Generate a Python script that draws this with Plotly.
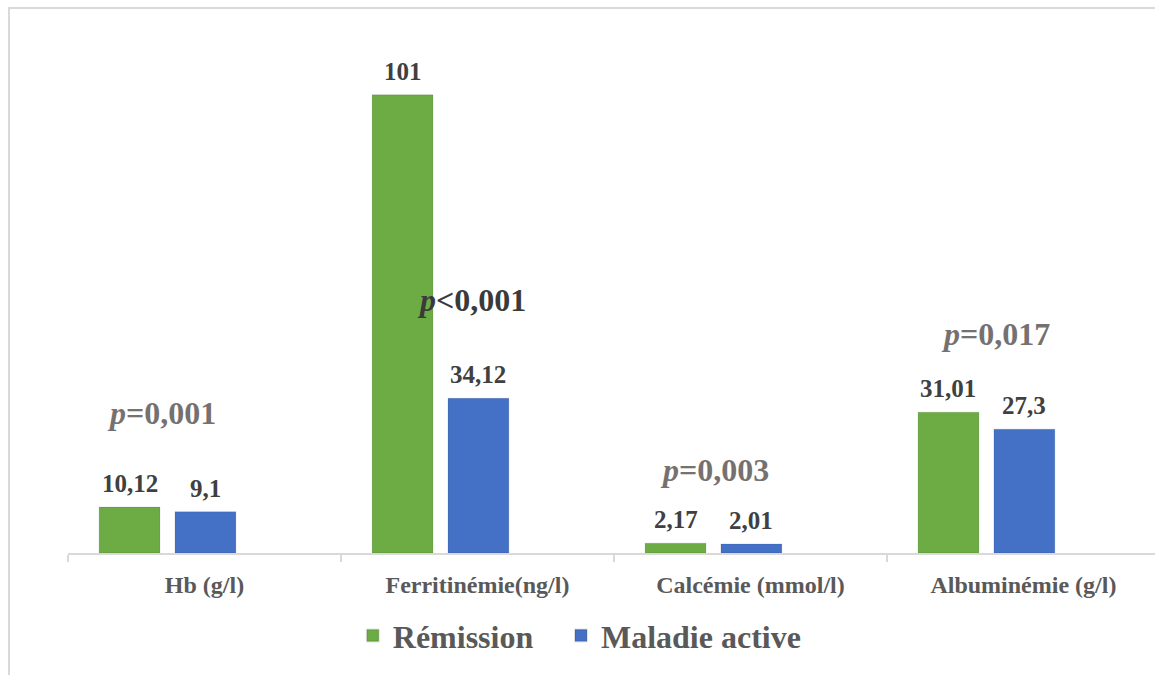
import plotly.graph_objects as go

# Biological parameters by disease activity
categories = ["Hb (g/l)", "Ferritinémie(ng/l)", "Calcémie (mmol/l)", "Albuminémie (g/l)"]
remission = [10.12, 101, 2.17, 31.01]
maladie_active = [9.1, 34.12, 2.01, 27.3]
p_values = ["=0,001", "<0,001", "=0,003", "=0,017"]

SERIF = "Liberation Serif, Times New Roman, serif"
GREEN = "#6dab45"
BLUE = "#4471c5"


def fmt(v):
    s = f"{v:g}"
    return s.replace(".", ",")


fig = go.Figure()

# offsets / widths of bars within each category slot (fraction of slot)
BAR_W = 0.223
series = [
    ("Rémission", remission, GREEN, -0.386, "legend"),
    ("Maladie active", maladie_active, BLUE, -0.108, "legend2"),
]
for name, vals, color, off, leg in series:
    fig.add_trace(go.Bar(
        x=categories, y=vals, name=name, legend=leg,
        width=[BAR_W] * len(vals), offset=[off] * len(vals),
        marker=dict(color=color, line=dict(color="rgba(0,0,0,0.10)", width=1)),
        hoverinfo="x+y",
    ))

# value labels above bars
annotations = []
slot_px = 273
for name, vals, color, off, _ in series:
    center_px = (off + BAR_W / 2) * slot_px
    for cat, v in zip(categories, vals):
        annotations.append(dict(
            x=cat, y=v, xref="x", yref="y", text=f"<b>{fmt(v)}</b>",
            showarrow=False, yanchor="bottom", xanchor="center",
            xshift=center_px, yshift=8,
            font=dict(family=SERIF, size=25, color="#404040"),
        ))

# p-value annotations
p_pos = [(-43, 30.9, "#767171"), (-6, 55.8, "#3a3a3a"), (-36, 18.3, "#767171"), (-28, 48.3, "#767171")]
for cat, p, (dx, yy, col) in zip(categories, p_values, p_pos):
    annotations.append(dict(
        x=cat, y=yy, xref="x", yref="y",
        text=f"<b><i>p</i>{p}</b>", showarrow=False,
        xshift=dx, xanchor="center", yanchor="middle",
        font=dict(family=SERIF, size=32, color=col),
    ))

legend_style = dict(
    orientation="h", xanchor="left", y=-0.155, yanchor="middle",
    font=dict(family=SERIF, size=32, color="#595959", weight="bold"),
    bgcolor="rgba(0,0,0,0)", itemsizing="constant", itemwidth=30,
)

fig.update_layout(
    width=1155, height=675,
    paper_bgcolor="white", plot_bgcolor="white",
    margin=dict(l=68, r=0, t=20, b=122),
    barmode="overlay",
    showlegend=True,
    legend=dict(x=0.262, **legend_style),
    legend2=dict(x=0.4535, **legend_style),
    annotations=annotations,
    shapes=[dict(type="rect", xref="paper", yref="paper",
                 x0=-0.0543, y0=-0.4, x1=1.1, y1=1.0225,
                 line=dict(color="#d9d9d9", width=2), layer="below")],
)

fig.update_xaxes(
    type="category", range=[-0.5, 3.482],
    showline=True, linecolor="#d9d9d9", linewidth=2,
    ticks="outside", tickson="boundaries", ticklen=7, tickcolor="#d9d9d9", tickwidth=2,
    tickfont=dict(family=SERIF, size=24, color="#595959", weight="bold"),
    ticklabelstandoff=9,
    showgrid=False, zeroline=False,
)
fig.update_yaxes(range=[0, 117.5], visible=False, showgrid=False)

fig.write_html("out.html")
